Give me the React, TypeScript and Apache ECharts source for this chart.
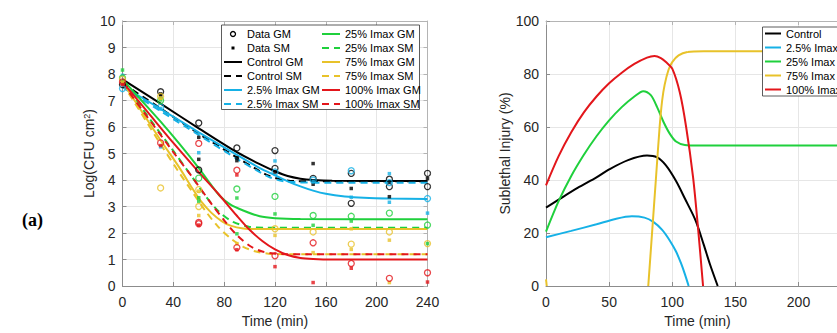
import React, { useEffect, useRef } from 'react';
import * as echarts from 'echarts';

const BLACK = '#000000';
const CYAN = '#16b1e6';
const GREEN = '#1fd03c';
const YELLOW = '#e8c22a';
const RED = '#e3161b';

// ---------- Left panel: model curves [time (min), log CFU cm^2] ----------
const controlGM = [[0, 7.8], [30, 6.88], [60, 5.95], [90, 5.05], [110, 4.55], [120, 4.33], [130, 4.15], [140, 4.05], [150, 4.0], [165, 3.97], [240, 3.96]];
const controlSM = [[0, 7.65], [30, 6.7], [60, 5.75], [90, 4.85], [105, 4.42], [115, 4.16], [125, 4.02], [135, 3.96], [150, 3.95], [240, 3.95]];
const lowGM = [[0, 7.55], [30, 6.68], [60, 5.8], [90, 4.95], [110, 4.4], [120, 4.18], [130, 3.95], [140, 3.76], [150, 3.6], [160, 3.48], [175, 3.38], [190, 3.33], [210, 3.3], [240, 3.28]];
const lowSM = [[0, 7.5], [30, 6.6], [60, 5.7], [90, 4.8], [105, 4.38], [115, 4.12], [125, 3.97], [135, 3.92], [150, 3.9], [240, 3.9]];
const midGM = [[0, 7.8], [15, 7.0], [30, 6.2], [45, 5.35], [60, 4.45], [70, 3.8], [77, 3.38], [85, 3.07], [95, 2.85], [108, 2.63], [120, 2.56], [140, 2.53], [240, 2.52]];
const midSM = [[0, 7.75], [20, 6.4], [40, 5.1], [55, 4.1], [66, 3.35], [76, 2.8], [87, 2.42], [100, 2.23], [112, 2.2], [240, 2.2]];
const highGM = [[0, 7.7], [15, 6.6], [30, 5.5], [45, 4.45], [55, 3.68], [62, 3.18], [70, 2.76], [78, 2.45], [85, 2.28], [95, 2.17], [105, 2.15], [240, 2.15]];
const highSM = [[0, 7.65], [15, 6.5], [30, 5.35], [45, 4.25], [55, 3.55], [65, 2.85], [75, 2.25], [85, 1.8], [95, 1.48], [105, 1.3], [115, 1.22], [130, 1.2], [240, 1.2]];
const maxGM = [[0, 7.7], [20, 6.55], [40, 5.4], [60, 4.3], [75, 3.5], [90, 2.65], [100, 2.12], [110, 1.7], [120, 1.38], [130, 1.17], [140, 1.06], [150, 1.02], [165, 1.0], [240, 1.0]];
const maxSM = [[0, 7.65], [20, 6.35], [40, 5.05], [55, 4.1], [70, 3.1], [80, 2.48], [90, 1.92], [100, 1.52], [110, 1.3], [120, 1.22], [130, 1.2], [240, 1.2]];

// ---------- Left panel: measured data ----------
const ptsControlGM = [[0, 7.6], [30, 7.33], [60, 6.15], [60, 4.38], [90, 5.21], [120, 5.11], [120, 4.44], [150, 4.06], [180, 4.25], [180, 3.12], [210, 4.03], [210, 3.75], [240, 4.25], [240, 3.75]];
const ptsControlSM = [[0, 7.7], [30, 7.25], [30, 7.15], [60, 5.61], [60, 4.78], [90, 4.84], [90, 4.73], [120, 4.3], [150, 4.62], [150, 3.84], [180, 3.68], [210, 3.37], [240, 4.05]];
const ptsLowGM = [[0, 7.45], [30, 6.75], [120, 4.3], [150, 4.0], [180, 4.35], [210, 3.9], [240, 3.3]];
const ptsLowSM = [[0, 7.95], [30, 6.7], [30, 5.25], [60, 5.03], [120, 4.72], [150, 3.95], [180, 3.35], [210, 4.24], [210, 3.16], [240, 2.75]];
const ptsMidGM = [[0, 7.85], [30, 7.0], [60, 4.07], [90, 3.66], [120, 3.38], [150, 2.66], [180, 2.63], [210, 2.75], [240, 2.3]];
const ptsMidSM = [[0, 8.15], [30, 7.02], [60, 3.33], [60, 3.2], [90, 3.32], [90, 1.97], [120, 2.72], [150, 2.29], [180, 2.45], [240, 1.6]];
const ptsHighGM = [[0, 7.8], [30, 7.15], [30, 3.7], [60, 3.64], [60, 3.0], [120, 2.16], [150, 2.04], [180, 1.58], [210, 2.04], [240, 1.6]];
const ptsHighSM = [[0, 7.7], [30, 7.1], [60, 3.58], [60, 2.66], [90, 1.6], [120, 1.91], [150, 1.26], [180, 2.16], [180, 1.38], [210, 1.73], [210, 0.13]];
const ptsMaxGM = [[0, 7.7], [30, 5.4], [60, 5.38], [60, 2.4], [60, 2.35], [90, 4.37], [90, 1.45], [120, 1.14], [150, 1.63], [180, 0.85], [210, 0.29], [240, 0.5]];
const ptsMaxSM = [[0, 7.6], [30, 5.3], [60, 2.3], [90, 4.19], [90, 1.37], [120, 0.73], [150, 0.13], [180, 0.67], [240, 0.15]];

// ---------- Right panel: sublethal injury (%) ----------
const injControl = [[0, 29.6], [10, 32.6], [25, 37], [40, 41], [50, 44], [65, 47.5], [80, 49.2], [88, 48.5], [95, 45.5], [103, 39.6], [110, 33], [118.6, 24.6], [125, 15.5], [130, 8], [136, 0]];
const injLow = [[0, 18.4], [20, 20.8], [40, 23.3], [55, 25.3], [68, 26.3], [78, 25.8], [85, 24.2], [92, 21.2], [98, 17.2], [103, 13], [107, 8.5], [110, 4.5], [113, 0]];
const injMid = [[0, 20.5], [10, 32], [20, 41.5], [30, 49.5], [40, 56.5], [50, 62.5], [60, 67.5], [70, 71.5], [77, 73.5], [83, 72], [88, 67.5], [93, 62], [98, 57.5], [103, 54.5], [110, 53.2], [120, 53], [240, 53]];
const injHighStart = [[0, 2.5], [0.6, 0]];
const injHigh = [[81, 0], [84, 20], [87, 40], [90, 60], [92, 70], [94, 76], [97, 81.5], [100, 84.5], [105, 87], [112, 88.3], [125, 88.6], [240, 88.6]];
const injMax = [[0, 38], [10, 49], [20, 58], [30, 65.5], [40, 71.5], [50, 76.5], [60, 80.5], [70, 83.8], [80, 86.2], [86, 86.8], [91, 86], [95, 84.5], [100, 82], [106, 73], [111, 60], [116.5, 41], [120.4, 22], [124.4, 0]];

const leftXTicks = { min: 0, max: 240, interval: 40 };
const leftYTicks = { min: 0, max: 10, interval: 1 };
const rightXTicks = { min: 0, max: 240, interval: 50 };
const rightYTicks = { min: 0, max: 100, interval: 20 };

const legendLeftCol1 = ['Data GM', 'Data SM', 'Control GM', 'Control SM', '2.5% Imax GM', '2.5% Imax SM'];
const legendLeftCol2 = ['25% Imax GM', '25% Imax SM', '75% Imax GM', '75% Imax SM', '100% Imax GM', '100% Imax SM'];
const legendRight = ['Control', '2.5% Imax', '25% Imax', '75% Imax', '100% Imax'];

const DASH = [7, 5];
const FONT = '"Liberation Sans", Arial, Helvetica, sans-serif';

function buildOption() {
  const axisLineC = '#8c8c8c';
  const mainX = (grid: number, t: any, name: string, fmt?: any) => ({
    type: 'value', gridIndex: grid, position: 'bottom', ...t,
    name, nameLocation: 'middle', nameGap: 28,
    nameTextStyle: { fontSize: 14, color: '#262626', fontFamily: FONT },
    axisLine: { onZero: false, lineStyle: { color: axisLineC } },
    axisTick: { inside: true, length: 4, lineStyle: { color: axisLineC } },
    axisLabel: { color: '#262626', fontSize: 14, margin: 9, fontFamily: FONT, formatter: fmt },
    splitLine: { show: true, lineStyle: { color: '#e6e6e6' } },
  });
  const mainY = (grid: number, t: any, name: string, gap: number, rich?: any) => ({
    type: 'value', gridIndex: grid, position: 'left', ...t,
    name, nameLocation: 'middle', nameGap: gap,
    nameTextStyle: { fontSize: 14, color: '#262626', fontFamily: FONT, rich },
    axisLine: { onZero: false, lineStyle: { color: axisLineC } },
    axisTick: { inside: true, length: 4, lineStyle: { color: axisLineC } },
    axisLabel: { color: '#262626', fontSize: 14, margin: 7, fontFamily: FONT },
    splitLine: { show: true, lineStyle: { color: '#e6e6e6' } },
  });
  const boxX = (grid: number, t: any) => ({
    type: 'value', gridIndex: grid, position: 'top', ...t,
    axisLine: { onZero: false, lineStyle: { color: '#b4b4b4' } },
    axisTick: { inside: true, length: 4, lineStyle: { color: '#b4b4b4' } },
    axisLabel: { show: false }, splitLine: { show: false },
  });
  const boxY = (grid: number, t: any) => ({
    type: 'value', gridIndex: grid, position: 'right', ...t,
    axisLine: { onZero: false, lineStyle: { color: '#b4b4b4' } },
    axisTick: { inside: true, length: 4, lineStyle: { color: '#b4b4b4' } },
    axisLabel: { show: false }, splitLine: { show: false },
  });

  const line = (name: string, data: number[][], color: string, dashed: boolean, xi: number, yi: number) => ({
    type: 'line', name, data, xAxisIndex: xi, yAxisIndex: yi,
    symbol: 'none', smooth: 0.3,
    lineStyle: { color, width: 2, type: dashed ? DASH : 'solid' },
    itemStyle: { color },
    z: 2,
  });
  const gm = (data: number[][], color: string) => ({
    type: 'scatter', name: 'gm-' + color, data, xAxisIndex: 0, yAxisIndex: 0,
    symbol: 'circle', symbolSize: 6,
    itemStyle: { color: 'rgba(255,255,255,0)', borderColor: color, borderWidth: 1.3 },
    z: 3,
  });
  const sm = (data: number[][], color: string) => ({
    type: 'scatter', name: 'sm-' + color, data, xAxisIndex: 0, yAxisIndex: 0,
    symbol: 'rect', symbolSize: 3.5,
    itemStyle: { color },
    z: 3,
  });

  const legendBase = {
    orient: 'vertical', itemWidth: 18, itemHeight: 5, itemGap: 3, padding: 0,
    selectedMode: false, z: 6,
    itemStyle: { opacity: 0 },
    textStyle: { fontSize: 11, color: '#000', fontFamily: FONT },
  };

  return {
    animation: false,
    backgroundColor: '#ffffff',
    textStyle: { fontFamily: FONT },
    grid: [
      { left: 122.5, top: 21, width: 305, height: 269 },
      { left: 546, top: 21, width: 303, height: 269 },
    ],
    xAxis: [
      mainX(0, leftXTicks, 'Time (min)'),
      mainX(1, rightXTicks, 'Time (min)', (v: number) => (v === 240 ? '' : String(v))),
      boxX(0, leftXTicks),
      boxX(1, rightXTicks),
    ],
    yAxis: [
      mainY(0, leftYTicks, 'Log(CFU cm{sup|2})', 21, { sup: { fontSize: 9, verticalAlign: 'top', color: '#262626', fontFamily: FONT } }),
      mainY(1, rightYTicks, 'Sublethal Injury (%)', 34),
      boxY(0, leftYTicks),
      boxY(1, rightYTicks),
    ],
    legend: [
      {
        ...legendBase, left: 223, top: 28.5,
        data: [
          { name: 'Data GM', icon: 'circle', itemStyle: { opacity: 1, color: 'rgba(255,255,255,0)', borderColor: '#000', borderWidth: 1.3 } },
          { name: 'Data SM', icon: 'path://M0,0M18,5M7.5,1h3v3h-3z', itemStyle: { opacity: 1, color: '#000', borderWidth: 0 } },
          ...legendLeftCol1.slice(2),
        ],
      },
      { ...legendBase, left: 321, top: 28.5, data: legendLeftCol2 },
      { ...legendBase, itemWidth: 16, left: 764, top: 28, data: legendRight },
    ],
    graphic: [
      { type: 'rect', shape: { x: 221.5, y: 25, width: 198, height: 84.5 }, style: { fill: '#fff', stroke: '#333', lineWidth: 0.8 }, z: 5 },
      { type: 'rect', shape: { x: 762.5, y: 27, width: 84, height: 69 }, style: { fill: '#fff', stroke: '#333', lineWidth: 0.8 }, z: 5 },
      { type: 'text', left: 22, top: 211, style: { text: '(a)', font: 'bold 18px "Liberation Serif", "Times New Roman", serif', fill: '#000' }, z: 5 },
    ],
    series: [
      { type: 'scatter', name: 'Data GM', data: [], xAxisIndex: 0, yAxisIndex: 0, symbol: 'circle', itemStyle: { color: 'rgba(255,255,255,0)', borderColor: '#000', borderWidth: 1.3 } },
      { type: 'scatter', name: 'Data SM', data: [], xAxisIndex: 0, yAxisIndex: 0, symbol: 'rect', itemStyle: { color: '#000' } },
      line('Control GM', controlGM, BLACK, false, 0, 0),
      line('Control SM', controlSM, BLACK, true, 0, 0),
      line('2.5% Imax GM', lowGM, CYAN, false, 0, 0),
      line('2.5% Imax SM', lowSM, CYAN, true, 0, 0),
      line('25% Imax GM', midGM, GREEN, false, 0, 0),
      line('25% Imax SM', midSM, GREEN, true, 0, 0),
      line('75% Imax GM', highGM, YELLOW, false, 0, 0),
      line('75% Imax SM', highSM, YELLOW, true, 0, 0),
      line('100% Imax GM', maxGM, RED, false, 0, 0),
      line('100% Imax SM', maxSM, RED, true, 0, 0),
      gm(ptsControlGM, BLACK), sm(ptsControlSM, BLACK),
      gm(ptsLowGM, CYAN), sm(ptsLowSM, CYAN),
      gm(ptsMidGM, GREEN), sm(ptsMidSM, GREEN),
      gm(ptsHighGM, YELLOW), sm(ptsHighSM, YELLOW),
      gm(ptsMaxGM, RED), sm(ptsMaxSM, RED),
      line('Control', injControl, BLACK, false, 1, 1),
      line('2.5% Imax', injLow, CYAN, false, 1, 1),
      line('25% Imax', injMid, GREEN, false, 1, 1),
      line('75% Imax', injHighStart, YELLOW, false, 1, 1),
      line('75% Imax', injHigh, YELLOW, false, 1, 1),
      line('100% Imax', injMax, RED, false, 1, 1),
    ],
  };
}

export default function App() {
  const ref = useRef<HTMLDivElement>(null);
  useEffect(() => {
    if (!ref.current) return;
    const chart = echarts.init(ref.current, null, { renderer: 'svg' });
    chart.setOption(buildOption() as any);
    return () => chart.dispose();
  }, []);
  return (
    <div style={{ position: 'fixed', left: 0, top: 0, width: 837, height: 333, overflow: 'hidden', background: '#fff' }}>
      <div ref={ref} style={{ width: 880, height: 333 }} />
    </div>
  );
}
